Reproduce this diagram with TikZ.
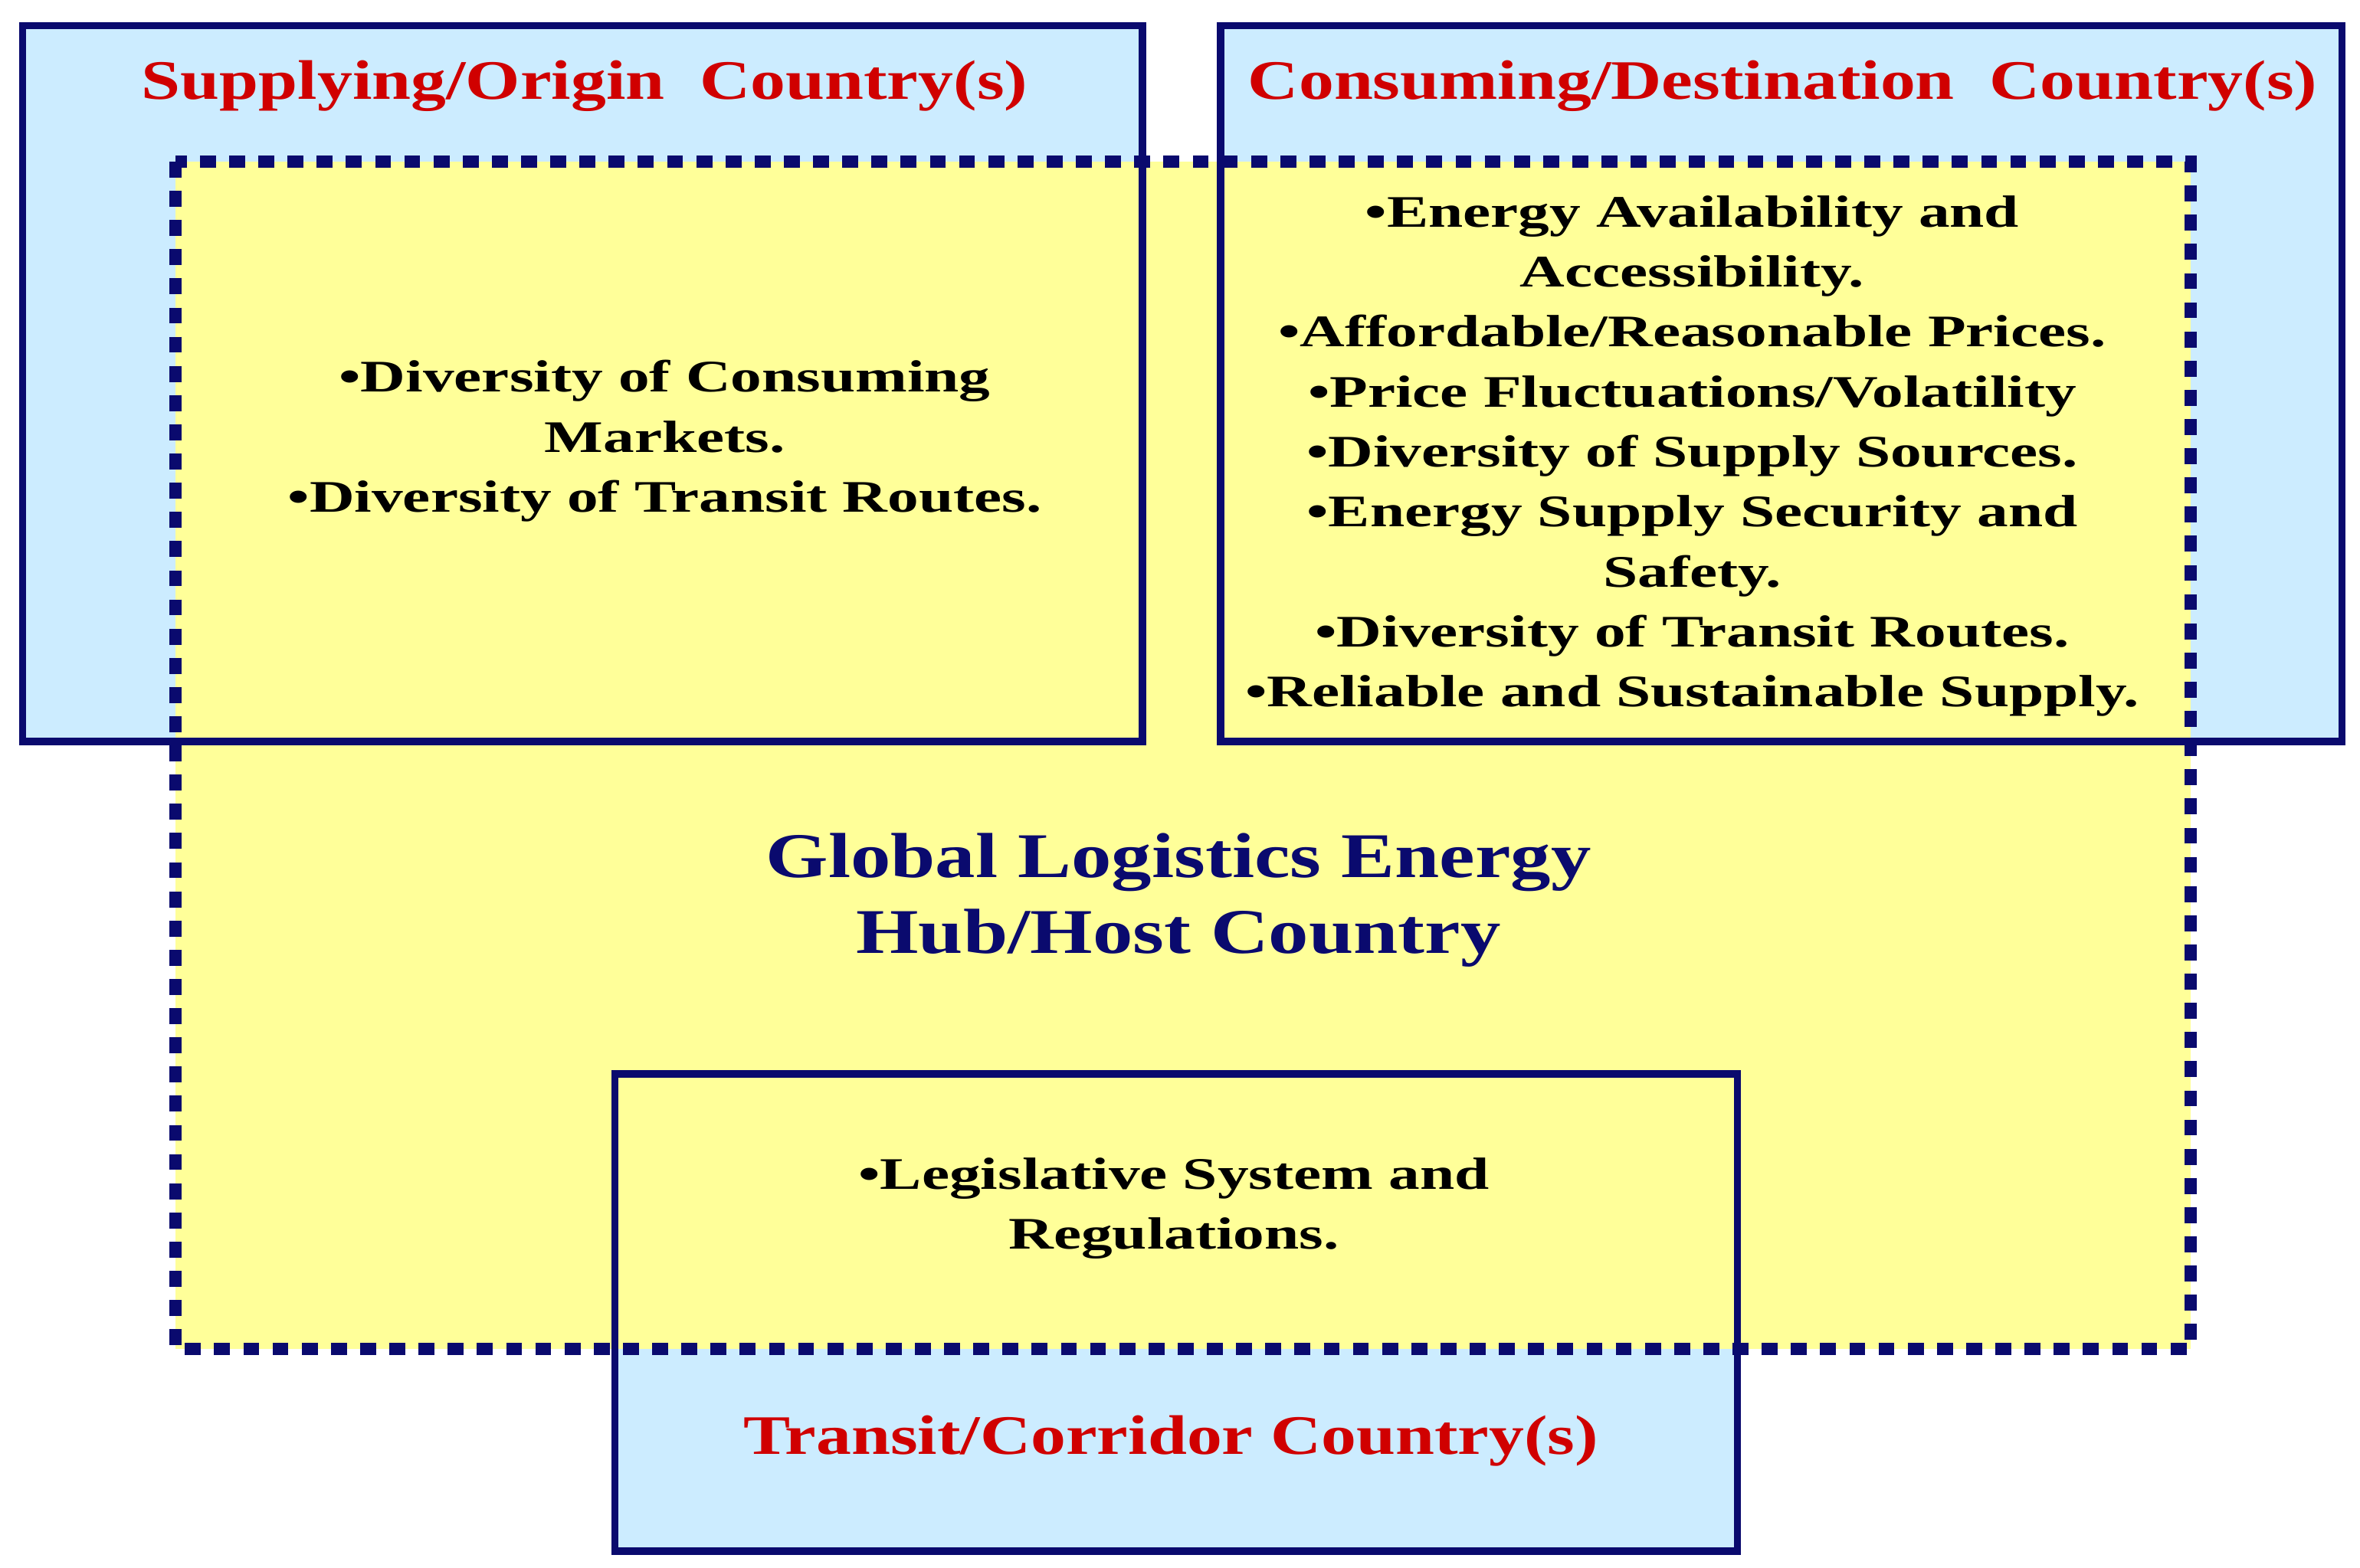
\documentclass[tikz,border=0pt]{standalone}
\usepackage{fontspec}
\setmainfont{Liberation Serif}
\newfontfamily\wideA[FakeStretch=1.26]{Liberation Serif}
\newfontfamily\wideB[FakeStretch=1.38]{Liberation Serif}
\definecolor{navy}{HTML}{0A0A6E}
\definecolor{lblue}{HTML}{CCECFF}
\definecolor{lyel}{HTML}{FFFF99}
\definecolor{tred}{HTML}{D00000}
\begin{document}
\begin{tikzpicture}[x=0.02cm,y=-0.02cm,
  frame/.style={draw=navy,line width=2.8pt},
  title/.style={text=tred,font=\wideA\bfseries\fontsize{21}{24}\selectfont},
  body/.style={align=center,font=\wideB\bfseries\fontsize{17}{22.6}\selectfont},
  hub/.style={align=center,text=navy,font=\wideA\bfseries\fontsize{24}{28.5}\selectfont}]
\useasboundingbox (0,0) rectangle (1562,1038);
\fill[white] (0,0) rectangle (1562,1038);
\fill[lblue] (15,17) rectangle (756,491);
\fill[lblue] (808,17) rectangle (1550,491);
\fill[lblue] (407,711) rectangle (1150,1027);
\fill[lyel] (116,107) rectangle (1450,893);
\draw[frame] (15,17) rectangle (756,491);
\draw[frame] (808,17) rectangle (1550,491);
\draw[frame] (407,711) rectangle (1150,1027);
\draw[draw=navy,line width=4.5pt,dash pattern=on 6pt off 5pt] (116,107) rectangle (1450,893);
\node[title] (t1) at (387,57) {Supplying/Origin\ \ Country(s)};
\node[title] (t2) at (1180,57) {Consuming/Destination\ \ Country(s)};
\node[title] (t3) at (775,954) {Transit/Corridor\ Country(s)};
\node[body] (b1) at (440,292) {•Diversity\ of Consuming\\Markets.\\•Diversity\ of Transit\ Routes.};
\node[body] (b2) at (1120,302) {•Energy\ Availability\ and\\Accessibility.\\•Affordable/Reasonable\ Prices.\\•Price Fluctuations/Volatility\\•Diversity\ of Supply\ Sources.\\•Energy\ Supply\ Security\ and\\Safety.\\•Diversity\ of Transit\ Routes.\\•Reliable and\ Sustainable Supply.};
\node[hub] (h) at (780,596) {Global Logistics Energy\\Hub/Host Country};
\node[body] (b3) at (777,800) {•Legislative System and\\Regulations.};
\end{tikzpicture}
\end{document}
